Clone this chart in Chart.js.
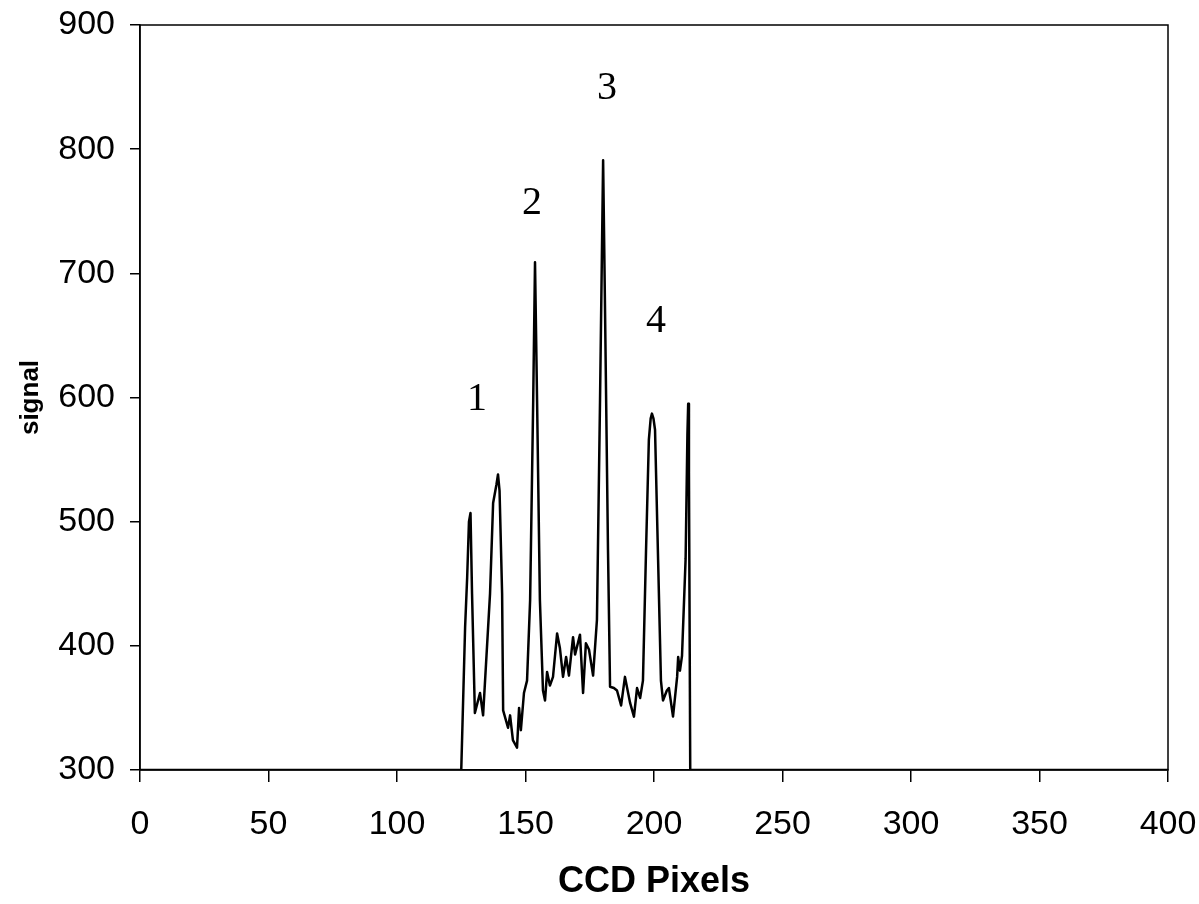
<!DOCTYPE html>
<html>
<head>
<meta charset="utf-8">
<script src="https://cdn.jsdelivr.net/npm/chart.js@4.4.1/dist/chart.umd.min.js"></script>
<style>
  html, body { margin: 0; padding: 0; background: #fff; }
  #wrap { width: 1199px; height: 904px; }
</style>
</head>
<body>
<div id="wrap"><canvas id="c"></canvas></div>
<script>
// CCD pixel positions (x) and signal values (y)
const pixels = [0, 125, 125.2, 126.5, 127.3, 128.0, 128.6, 129.2, 130.3, 132.3, 133.5, 136.2, 137.4, 138.7, 139.3, 139.9,
  140.9, 141.3, 143.2, 144, 145.1, 146.7, 147.5, 148.2, 149.4, 150.6, 151.8, 153, 153.7, 154.5,
  155.6, 156.8, 157.6, 158.4, 159.5, 160.7, 162.3, 163.4, 164.6, 165.8, 166.9, 168.5, 169.3,
  171.2, 172.4, 173.5, 174.7, 176.3, 177.8, 179, 180.2, 180.9, 182.1, 182.9, 184.4, 185.6,
  187.2, 188.7, 190.7, 192.2, 193.4, 194.6, 195.7, 196.9, 198, 198.7, 199.2, 199.8, 200.4, 201.6, 202.7,
  203.5, 205, 205.8, 207.4, 209, 209.4, 210.1, 210.9, 212.3, 213.0, 213.3, 213.6, 214.1, 400];
const signal = [300, 300, 300, 415, 455, 500, 507, 442, 346, 362, 344, 442, 515, 530, 538, 525,
  442, 348, 334, 344, 324, 318, 350, 332, 362, 372, 437, 598, 709, 598,
  437, 364, 356, 379, 368, 375, 410, 398, 375, 391, 376, 407, 393,
  409, 362, 402, 397, 376, 421, 598, 791, 678, 477, 367, 366, 364,
  352, 375, 354, 343, 366, 358, 372, 477, 566, 583, 587, 583, 574, 469, 372,
  356, 364, 366, 343, 375, 391, 380, 392, 470, 570, 595, 540, 300, 300];

// Peak labels
const peakNames = ['1', '2', '3', '4'];
const peakLabelX = [131.1, 152.5, 181.7, 200.8];
const peakLabelY = [598, 756, 849, 661];

// Axis ticks
const xTicks = [0, 50, 100, 150, 200, 250, 300, 350, 400];
const yTicks = [300, 400, 500, 600, 700, 800, 900];

const points = pixels.map((p, i) => ({ x: p, y: signal[i] }));

const frame = {
  id: 'frame',
  afterDatasetsDraw(chart) {
    const { ctx, chartArea: a } = chart;
    ctx.save();
    ctx.strokeStyle = '#000';
    ctx.lineWidth = 1.5;
    ctx.strokeRect(a.left, a.top, a.right - a.left, a.bottom - a.top);
    const xs = chart.scales.x, ys = chart.scales.y;
    ctx.fillStyle = '#000';
    ctx.font = '40px "Liberation Serif", "Times New Roman", serif';
    ctx.textAlign = 'center';
    ctx.textBaseline = 'middle';
    peakNames.forEach((t, i) => {
      ctx.fillText(t, xs.getPixelForValue(peakLabelX[i]), ys.getPixelForValue(peakLabelY[i]));
    });
    ctx.restore();
  }
};

new Chart(document.getElementById('c'), {
  type: 'scatter',
  data: {
    datasets: [{
      data: points,
      showLine: true,
      borderColor: '#000',
      borderWidth: 2.5,
      borderJoinStyle: 'round',
      pointRadius: 0,
      tension: 0,
      fill: false
    }]
  },
  options: {
    responsive: true,
    maintainAspectRatio: false,
    animation: false,
    events: [],
    layout: { padding: { top: 25, right: 31, left: 0, bottom: 0 } },
    plugins: { legend: { display: false }, tooltip: { enabled: false } },
    scales: {
      x: {
        type: 'linear',
        min: 0, max: 400,
        afterBuildTicks: s => { s.ticks = xTicks.map(v => ({ value: v })); },
        afterFit: s => { s.height = 134; s.paddingLeft = 0; s.paddingRight = 0; },
        grid: { drawOnChartArea: false, drawTicks: true, tickLength: 12, color: '#000', lineWidth: 1.5 },
        border: { display: true, color: '#000', width: 1.5 },
        ticks: { color: '#000', padding: 22, maxRotation: 0, font: { family: '"Liberation Sans", Arial, sans-serif', size: 34 } },
        title: { display: true, text: 'CCD Pixels', color: '#000', padding: { top: 0, bottom: 0 },
          font: { family: '"Liberation Sans", Arial, sans-serif', size: 36, weight: 'bold', lineHeight: 1.2 } }
      },
      y: {
        type: 'linear',
        min: 300, max: 900,
        afterBuildTicks: s => { s.ticks = yTicks.map(v => ({ value: v })); },
        afterFit: s => { s.width = 140; s.paddingTop = 0; s.paddingBottom = 0; },
        grid: { drawOnChartArea: false, drawTicks: true, tickLength: 10, color: '#000', lineWidth: 1.5 },
        border: { display: true, color: '#000', width: 1.5 },
        ticks: { color: '#000', padding: 15, font: { family: '"Liberation Sans", Arial, sans-serif', size: 34 } },
        title: { display: true, text: 'signal', color: '#000', padding: { top: 15, bottom: 0 },
          font: { family: '"Liberation Sans", Arial, sans-serif', size: 26, weight: 'bold', lineHeight: 1.2 } }
      }
    }
  },
  plugins: [frame]
});
</script>
</body>
</html>
